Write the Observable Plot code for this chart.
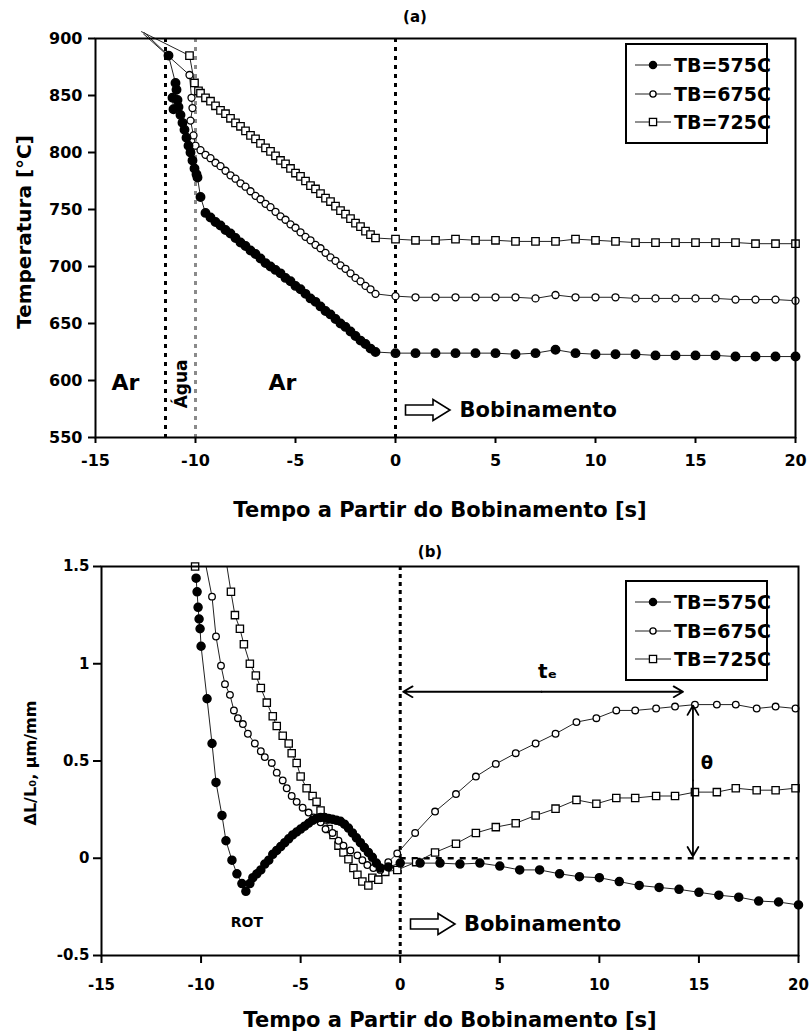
<!DOCTYPE html>
<html><head><meta charset="utf-8">
<script src="https://cdn.jsdelivr.net/npm/d3@7"></script>
<script src="https://cdn.jsdelivr.net/npm/@observablehq/plot@0.6"></script>
<style>
body{margin:0;background:#fff;}
#wrap{position:relative;width:811px;height:1036px;overflow:hidden;background:#fff;font-family:"DejaVu Sans","Liberation Sans",Arial,sans-serif;font-weight:bold;color:#000;}
.abs{position:absolute;white-space:nowrap;}
.legend{position:absolute;border:2.5px solid #000;background:#fff;box-sizing:border-box;}
.legrow{position:absolute;left:8px;height:26px;display:flex;align-items:center;font-size:19px;font-weight:bold;}
.legrow svg{margin-right:3px;}
</style></head><body><div id="wrap"></div>
<script>
// ---------------- data ----------------
const xTicks = [-15, -10, -5, 0, 5, 10, 15, 20];
const tempTicks = [550, 600, 650, 700, 750, 800, 850, 900];
const strainTicks = [-0.5, 0, 0.5, 1, 1.5];
const seriesNames = ["TB=575C", "TB=675C", "TB=725C"];

// Panel (a): temperature [°C] vs time [s]
const aTime575 = [-12.55, -11.35, -11.0, -11.15, -11.1, -10.95, -10.9, -10.85, -10.75, -10.65, -10.55, -10.45, -10.35, -10.25, -10.15, -10.05, -9.95, -9.9, -9.75,
  -9.5, -9.25, -9.0, -8.75, -8.5, -8.25, -8.0, -7.75, -7.5, -7.25, -7.0, -6.75, -6.5, -6.25, -6.0, -5.75, -5.5, -5.25, -5.0, -4.75, -4.5, -4.25, -4.0, -3.75, -3.5, -3.25, -3.0, -2.75, -2.5, -2.25, -2.0, -1.75, -1.5, -1.25, -1.0,
  0, 1, 2, 3, 4, 5, 6, 7, 8, 9, 10, 11, 12, 13, 14, 15, 16, 17, 18, 19, 20];
const aTemp575 = [905, 885, 861, 848, 838, 855, 846, 840, 833, 826, 820, 813, 806, 800, 793, 786, 781, 778, 761,
  747, 743, 739, 736, 732, 729, 725, 721, 718, 714, 711, 707, 703, 700, 697, 694, 690, 687, 683, 680, 676, 672, 669, 665, 661, 658, 654, 650, 647, 643, 639, 635, 632, 628, 625,
  624, 624, 624, 624, 624, 624, 623, 624, 627, 624, 623, 623, 623, 622, 622, 622, 622, 621, 621, 621, 621];

const aTime675 = [-12.6, -10.3, -10.2, -10.15, -10.25, -10.1, -10.0,
  -9.75, -9.5, -9.25, -9.0, -8.75, -8.5, -8.25, -8.0, -7.75, -7.5, -7.25, -7.0, -6.75, -6.5, -6.25, -6.0, -5.75, -5.5, -5.25, -5.0, -4.75, -4.5, -4.25, -4.0, -3.75, -3.5, -3.25, -3.0, -2.75, -2.5, -2.25, -2.0, -1.75, -1.5, -1.25, -1.0,
  0, 1, 2, 3, 4, 5, 6, 7, 8, 9, 10, 11, 12, 13, 14, 15, 16, 17, 18, 19, 20];
const aTemp675 = [904, 868, 848, 839, 828, 815, 806,
  802, 798, 795, 791, 788, 784, 780, 777, 773, 770, 766, 762, 759, 755, 752, 748, 744, 741, 737, 734, 730, 726, 723, 719, 716, 712, 708, 705, 701, 698, 694, 690, 687, 683, 680, 676,
  674, 673, 673, 673, 673, 673, 673, 672, 675, 673, 673, 673, 672, 672, 672, 672, 672, 671, 671, 671, 670];

const aTime725 = [-12.7, -10.3, -10.05, -9.85,
  -9.75, -9.5, -9.25, -9.0, -8.75, -8.5, -8.25, -8.0, -7.75, -7.5, -7.25, -7.0, -6.75, -6.5, -6.25, -6.0, -5.75, -5.5, -5.25, -5.0, -4.75, -4.5, -4.25, -4.0, -3.75, -3.5, -3.25, -3.0, -2.75, -2.5, -2.25, -2.0, -1.75, -1.5, -1.25, -1.0,
  0, 1, 2, 3, 4, 5, 6, 7, 8, 9, 10, 11, 12, 13, 14, 15, 16, 17, 18, 19, 20];
const aTemp725 = [906, 885, 861, 854,
  852, 848, 845, 841, 837, 834, 830, 826, 823, 819, 815, 812, 808, 804, 801, 797, 793, 790, 786, 782, 779, 775, 771, 768, 764, 760, 757, 753, 749, 746, 742, 738, 735, 731, 728, 725,
  724, 723, 723, 724, 723, 723, 722, 722, 722, 724, 723, 722, 721, 721, 721, 721, 721, 721, 720, 720, 720];

// Panel (b): ΔL/L0 [µm/mm] vs time [s]
const bTime575 = [-10.25, -10.2, -10.15, -10.1, -10.05, -10.0, -9.7, -9.45, -9.25, -8.95, -8.75, -8.45, -8.2, -7.95, -7.75, -7.55, -7.4, -7.2, -7.0, -6.8, -6.6, -6.4, -6.2, -6.0, -5.8, -5.6, -5.4, -5.2, -5.0, -4.8, -4.6, -4.4, -4.2, -4.0, -3.8, -3.6, -3.4, -3.2, -3.0, -2.8, -2.6, -2.4, -2.2, -2.0, -1.8, -1.6, -1.4, -1.2, -1.0, -0.6,
  0, 1, 2, 3, 4, 5, 6, 7, 8, 9, 10, 11, 12, 13, 14, 15, 16, 17, 18, 19, 20];
const bStrain575 = [1.44, 1.37, 1.29, 1.23, 1.18, 1.09, 0.82, 0.59, 0.39, 0.22, 0.09, -0.01, -0.08, -0.13, -0.17, -0.13, -0.1, -0.08, -0.06, -0.03, -0.01, 0.02, 0.04, 0.06, 0.08, 0.1, 0.12, 0.135, 0.15, 0.165, 0.18, 0.195, 0.205, 0.21, 0.21, 0.205, 0.2, 0.195, 0.19, 0.175, 0.155, 0.13, 0.105, 0.08, 0.055, 0.03, 0.005, -0.025, -0.05, -0.045,
  -0.025, -0.025, -0.025, -0.03, -0.025, -0.04, -0.06, -0.06, -0.08, -0.095, -0.1, -0.12, -0.14, -0.15, -0.16, -0.175, -0.19, -0.2, -0.22, -0.225, -0.24];

const bTime675 = [-9.75, -9.45, -9.25, -9.0, -8.8, -8.55, -8.35, -8.15, -7.9, -7.65, -7.3, -7.0, -6.8, -6.45, -6.2, -5.9, -5.7, -5.45, -5.2, -4.9, -4.6, -4.35, -4.0, -3.75, -3.4, -3.1, -2.85, -2.5, -2.15, -1.9, -1.65, -1.35, -1.0, -0.6, -0.15,
  0.75, 1.75, 2.8, 3.8, 4.8, 5.8, 6.8, 7.8, 8.85, 9.85, 10.85, 11.8, 12.85, 13.8, 14.8, 15.9, 16.85, 17.9, 18.85, 19.85];
const bStrain675 = [1.5, 1.345, 1.14, 0.99, 0.895, 0.84, 0.76, 0.72, 0.69, 0.64, 0.59, 0.55, 0.52, 0.49, 0.44, 0.40, 0.36, 0.32, 0.29, 0.26, 0.235, 0.21, 0.185, 0.15, 0.13, 0.09, 0.065, 0.04, 0.015, -0.01, -0.035, -0.05, -0.06, -0.02, 0.025,
  0.13, 0.24, 0.33, 0.42, 0.485, 0.54, 0.59, 0.64, 0.70, 0.72, 0.76, 0.76, 0.77, 0.78, 0.79, 0.79, 0.79, 0.77, 0.78, 0.77];

const bTime725 = [-8.7, -8.5, -8.3, -8.05, -7.85, -7.55, -7.25, -7.0, -6.7, -6.4, -6.2, -5.9, -5.6, -5.45, -5.2, -5.0, -4.7, -4.4, -4.2, -4.0, -3.75, -3.6, -3.35, -3.1, -2.85, -2.6, -2.35, -2.15, -1.9, -1.6, -1.4, -1.1, -0.75, -0.15,
  0.8, 1.75, 2.8, 3.8, 4.8, 5.8, 6.8, 7.8, 8.85, 9.85, 10.85, 11.8, 12.85, 13.8, 14.8, 15.9, 16.85, 17.9, 18.85, 19.85];
const bStrain725 = [1.5, 1.37, 1.25, 1.18, 1.10, 1.00, 0.94, 0.875, 0.80, 0.73, 0.68, 0.63, 0.59, 0.54, 0.49, 0.42, 0.36, 0.32, 0.29, 0.245, 0.20, 0.15, 0.12, 0.065, 0.03, -0.005, -0.05, -0.085, -0.12, -0.14, -0.10, -0.11, -0.07, -0.06,
  -0.02, 0.03, 0.075, 0.13, 0.16, 0.18, 0.22, 0.255, 0.30, 0.28, 0.31, 0.31, 0.32, 0.32, 0.34, 0.34, 0.36, 0.35, 0.35, 0.36];
const bEdgeSquareTime = [-10.3];
const bEdgeSquareStrain = [1.5];

// ---------------- build ----------------
const rows = (xs, ys) => xs.map((x, i) => ({x, y: ys[i]}));
const a575 = rows(aTime575, aTemp575), a675 = rows(aTime675, aTemp675), a725 = rows(aTime725, aTemp725);
const b575 = rows(bTime575, bStrain575), b675 = rows(bTime675, bStrain675), b725 = rows(bTime725, bStrain725);
const bEdge = rows(bEdgeSquareTime, bEdgeSquareStrain);

const FONT = "'DejaVu Sans', 'Liberation Sans', Arial, sans-serif";
const lineStyle = {x: "x", y: "y", stroke: "#222", strokeWidth: 1};
const aDot575 = {x: "x", y: "y", r: 4.2, fill: "#000", stroke: "#000"};
const aDot675 = {x: "x", y: "y", r: 3.5, fill: "#fff", stroke: "#000", strokeWidth: 1.3};
const aDot725 = {x: "x", y: "y", symbol: "square", r: 4.2, fill: "#fff", stroke: "#000", strokeWidth: 1.3};
const bDot575 = {x: "x", y: "y", r: 4, fill: "#000", stroke: "#000"};
const bDot675 = {x: "x", y: "y", r: 3.3, fill: "#fff", stroke: "#000", strokeWidth: 1.3};
const bDot725 = {x: "x", y: "y", symbol: "square", r: 4.1, fill: "#fff", stroke: "#000", strokeWidth: 1.3};

const wrap = document.getElementById("wrap");

const A = Plot.plot({
  width: 811, height: 500,
  marginTop: 38, marginBottom: 63, marginLeft: 95, marginRight: 16,
  x: {domain: [-15, 20]},
  y: {domain: [550, 900]},
  style: {fontFamily: FONT, color: "#000", background: "transparent", overflow: "visible"},
  marks: [
    Plot.ruleX([-11.5], {stroke: "#000", strokeWidth: 3, strokeDasharray: "4,5"}),
    Plot.ruleX([-10], {stroke: "#8a8a8a", strokeWidth: 3, strokeDasharray: "4,5"}),
    Plot.ruleX([0], {stroke: "#000", strokeWidth: 3, strokeDasharray: "4,5"}),
    Plot.line(a725, lineStyle),
    Plot.line(a675, lineStyle),
    Plot.line(a575, lineStyle),
    Plot.dot(a725.filter(d => d.y <= 900), aDot725),
    Plot.dot(a675.filter(d => d.y <= 900), aDot675),
    Plot.dot(a575.filter(d => d.y <= 900), aDot575),
    Plot.frame({stroke: "#000", strokeWidth: 2}),
    Plot.axisY({ticks: tempTicks, tickFormat: d => `${d}`, tickSize: 7, tickPadding: 6, fontSize: 16, fontWeight: "bold", strokeWidth: 2, label: null}),
    Plot.axisX({ticks: xTicks, tickFormat: d => `${d}`, tickSize: 6, tickPadding: 11, fontSize: 16, fontWeight: "bold", strokeWidth: 2, label: null}),
    Plot.text(["Ar"], {x: -13.5, y: 598, fontSize: 22, fontWeight: "bold"}),
    Plot.text(["Ar"], {x: -5.65, y: 598, fontSize: 22, fontWeight: "bold"}),
    Plot.text(["Água"], {x: -10.72, y: 597, rotate: -90, fontSize: 17, fontWeight: "bold"}),
    Plot.text(["Bobinamento"], {x: 3.2, y: 574, textAnchor: "start", fontSize: 21, fontWeight: "bold"})
  ]
});
A.style.position = "absolute"; A.style.left = "0px"; A.style.top = "0px";
wrap.appendChild(A);

const BTOP = 528;
const B = Plot.plot({
  width: 811, height: 470,
  marginTop: 38, marginBottom: 43, marginLeft: 101, marginRight: 13,
  x: {domain: [-15, 20]},
  y: {domain: [-0.5, 1.5]},
  style: {fontFamily: FONT, color: "#000", background: "transparent", overflow: "visible"},
  marks: [
    Plot.ruleX([0], {stroke: "#000", strokeWidth: 3, strokeDasharray: "4,4"}),
    Plot.ruleY([0], {x1: 0, x2: 20, stroke: "#000", strokeWidth: 2.5, strokeDasharray: "6,6"}),
    Plot.line(b725, lineStyle),
    Plot.line(b675, lineStyle),
    Plot.line(b575, lineStyle),
    Plot.dot(b725.filter(d => d.y < 1.5), bDot725),
    Plot.dot(bEdge, bDot725),
    Plot.dot(b675.filter(d => d.y < 1.5), bDot675),
    Plot.dot(b575, bDot575),
    Plot.arrow([{x1: 7.1, x2: 0.15}, {x1: 7.1, x2: 14.2}], {x1: "x1", x2: "x2", y1: 0.856, y2: 0.856, stroke: "#000", strokeWidth: 1.8, headLength: 9}),
    Plot.arrow([{y1: 0.4, y2: 0.785}, {y1: 0.4, y2: 0.01}], {x1: 14.7, x2: 14.7, y1: "y1", y2: "y2", stroke: "#000", strokeWidth: 1.8, headLength: 9}),
    Plot.frame({stroke: "#000", strokeWidth: 2}),
    Plot.axisY({ticks: strainTicks, tickFormat: d => `${d}`, tickSize: 8, tickPadding: 4, fontSize: 15, fontWeight: "bold", strokeWidth: 2, label: null}),
    Plot.axisX({ticks: xTicks, tickFormat: d => `${d}`, tickSize: 8, tickPadding: 16, fontSize: 15, fontWeight: "bold", strokeWidth: 2, label: null}),
    Plot.text(["tₑ"], {x: 7.4, y: 0.96, fontSize: 20, fontWeight: "bold"}),
    Plot.text(["θ"], {x: 15.4, y: 0.49, fontSize: 18, fontWeight: "bold"}),
    Plot.text(["ROT"], {x: -7.7, y: -0.33, fontSize: 14, fontWeight: "bold"}),
    Plot.text(["Bobinamento"], {x: 3.2, y: -0.34, textAnchor: "start", fontSize: 21, fontWeight: "bold"})
  ]
});
B.style.position = "absolute"; B.style.left = "0px"; B.style.top = BTOP + "px";
wrap.appendChild(B);

// ---------------- overlays (titles, legends, hollow arrows) ----------------
function addText(txt, left, top, css) {
  const d = document.createElement("div");
  d.className = "abs"; d.textContent = txt;
  d.style.left = left + "px"; d.style.top = top + "px";
  Object.assign(d.style, css || {});
  wrap.appendChild(d);
  return d;
}
addText("(a)", 415, 17, {fontSize: "15px", transform: "translate(-50%,-50%)"});
addText("(b)", 430, 552, {fontSize: "15px", transform: "translate(-50%,-50%)"});
addText("Tempo a Partir do Bobinamento [s]", 440, 510, {fontSize: "21px", transform: "translate(-50%,-50%)"});
addText("Tempo a Partir do Bobinamento [s]", 450, 1020, {fontSize: "21px", transform: "translate(-50%,-50%)"});
addText("Temperatura [°C]", 24, 232, {fontSize: "20px", transform: "translate(-50%,-50%) rotate(-90deg)"});
addText("ΔL/L₀, μm/mm", 30, 763, {fontSize: "16px", transform: "translate(-50%,-50%) rotate(-90deg)"});

const NS = "http://www.w3.org/2000/svg";
function hollowArrow(cx, cy) {
  const s = document.createElementNS(NS, "svg");
  s.setAttribute("width", 48); s.setAttribute("height", 24);
  s.style.position = "absolute"; s.style.left = (cx) + "px"; s.style.top = (cy - 12) + "px";
  const p = document.createElementNS(NS, "path");
  p.setAttribute("d", "M1.5 7 H29 V1.5 L46 12 L29 22.5 V17 H1.5 Z");
  p.setAttribute("fill", "#fff"); p.setAttribute("stroke", "#000"); p.setAttribute("stroke-width", "1.6");
  s.appendChild(p); wrap.appendChild(s);
}
hollowArrow(A.scale("x").apply(0.45), A.scale("y").apply(574));
hollowArrow(B.scale("x").apply(0.45), BTOP + B.scale("y").apply(-0.34));

function legend(left, top) {
  const box = document.createElement("div");
  box.className = "legend";
  box.style.left = left + "px"; box.style.top = top + "px";
  box.style.width = "143px"; box.style.height = "101px";
  const styles = [
    {fill: "#000", sq: false, r: 3.6},
    {fill: "#fff", sq: false, r: 3.1},
    {fill: "#fff", sq: true, r: 3.6}
  ];
  seriesNames.forEach((name, i) => {
    const row = document.createElement("div");
    row.className = "legrow";
    row.style.top = (7 + i * 28.5) + "px";
    const s = document.createElementNS(NS, "svg");
    s.setAttribute("width", 36); s.setAttribute("height", 14);
    const l = document.createElementNS(NS, "line");
    l.setAttribute("x1", 0); l.setAttribute("x2", 36); l.setAttribute("y1", 7); l.setAttribute("y2", 7);
    l.setAttribute("stroke", "#222"); l.setAttribute("stroke-width", 1.2);
    s.appendChild(l);
    let m;
    if (styles[i].sq) {
      m = document.createElementNS(NS, "rect");
      m.setAttribute("x", 18 - 3.6); m.setAttribute("y", 7 - 3.6); m.setAttribute("width", 7.2); m.setAttribute("height", 7.2);
    } else {
      m = document.createElementNS(NS, "circle");
      m.setAttribute("cx", 18); m.setAttribute("cy", 7); m.setAttribute("r", styles[i].r);
    }
    m.setAttribute("fill", styles[i].fill); m.setAttribute("stroke", "#000"); m.setAttribute("stroke-width", 1.3);
    s.appendChild(m);
    row.appendChild(s);
    const t = document.createElement("span"); t.textContent = name;
    row.appendChild(t);
    box.appendChild(row);
  });
  wrap.appendChild(box);
}
legend(625, 43);
legend(625, 580);
</script></body></html>
